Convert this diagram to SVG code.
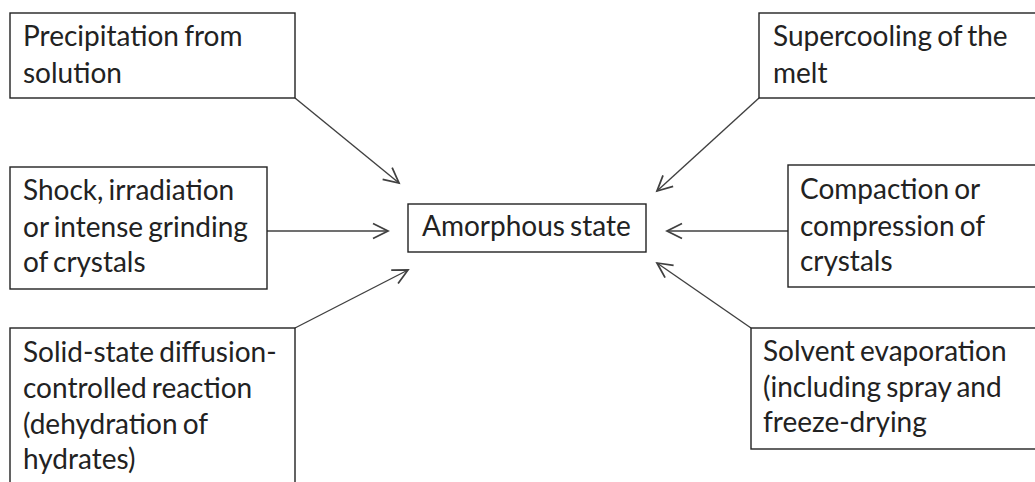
<svg xmlns="http://www.w3.org/2000/svg" width="1035" height="482" viewBox="0 0 1035 482">
<style>
.box{fill:#fff;stroke:#222;stroke-width:1.4}
.t{font-family:Lato,"Liberation Sans",sans-serif;font-size:28px;fill:#222;word-spacing:-2px}
.c{stroke:#404040;stroke-width:1.4;fill:none;marker-end:url(#ah)}
</style>
<defs>
<marker id="ah" markerUnits="userSpaceOnUse" markerWidth="20" markerHeight="20" viewBox="-14 -8 16 16" refX="0" refY="0" orient="auto">
<path d="M-12,-6 L0,0 L-12,6" fill="none" stroke="#404040" stroke-width="1.4"/>
</marker>
</defs>
<rect width="1035" height="482" fill="#fff"/>
<g id="connectors">
<line class="c" x1="295" y1="98" x2="399" y2="183"/>
<line class="c" x1="759" y1="98" x2="657" y2="191"/>
<line class="c" x1="267" y1="231" x2="388" y2="231"/>
<line class="c" x1="788" y1="231" x2="667" y2="231"/>
<line class="c" x1="295" y1="328" x2="408" y2="270"/>
<line class="c" x1="751" y1="328" x2="657" y2="263"/>
</g>
<g id="n-precip">
<rect class="box" x="10" y="13" width="285" height="85"/>
<text class="t" x="23" y="46">Precipitation from</text>
<text class="t" x="23" y="83">solution</text>
</g>
<g id="n-supercool">
<rect class="box" x="759" y="13" width="290" height="85"/>
<text class="t" x="773" y="46">Supercooling of the</text>
<text class="t" x="773" y="83">melt</text>
</g>
<g id="n-shock">
<rect class="box" x="10" y="167" width="257" height="122"/>
<text class="t" x="23" y="200">Shock, irradiation</text>
<text class="t" x="23" y="237">or intense grinding</text>
<text class="t" x="23" y="272">of crystals</text>
</g>
<g id="n-amorph">
<rect class="box" x="408" y="204" width="238" height="48"/>
<text class="t" x="422" y="236">Amorphous state</text>
</g>
<g id="n-compact">
<rect class="box" x="788" y="165" width="260" height="122"/>
<text class="t" x="800" y="199">Compaction or</text>
<text class="t" x="800" y="236">compression of</text>
<text class="t" x="800" y="271">crystals</text>
</g>
<g id="n-solid">
<rect class="box" x="10" y="328" width="285" height="170"/>
<text class="t" x="23" y="362">Solid-state diffusion-</text>
<text class="t" x="23" y="398">controlled reaction</text>
<text class="t" x="23" y="434">(dehydration of</text>
<text class="t" x="23" y="469">hydrates)</text>
</g>
<g id="n-solvent">
<rect class="box" x="751" y="328" width="297" height="121"/>
<text class="t" x="763" y="361">Solvent evaporation</text>
<text class="t" x="763" y="397">(including spray and</text>
<text class="t" x="763" y="432">freeze-drying</text>
</g>
</svg>
